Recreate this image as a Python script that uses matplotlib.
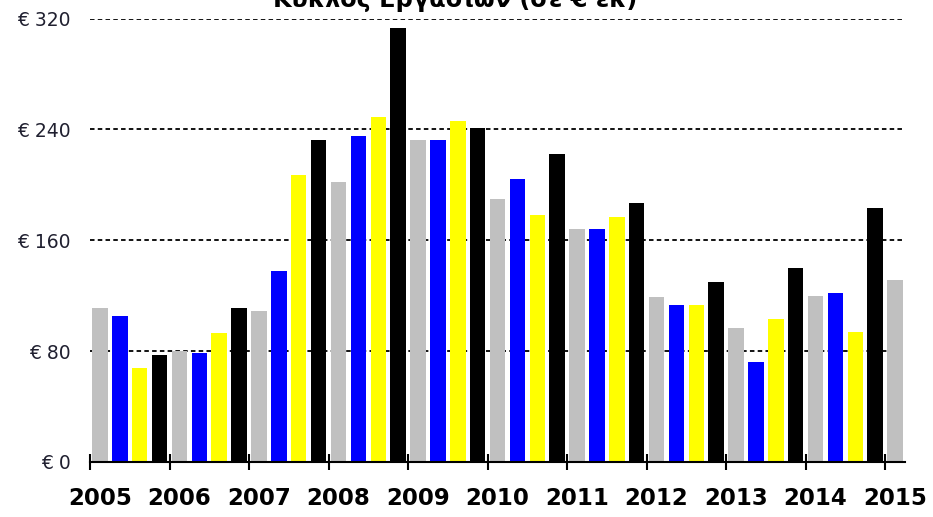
import numpy as np
import matplotlib.pyplot as plt

# Κύκλος εργασιών ανά τρίμηνο (σε € εκ.)
years = ['2005', '2006', '2007', '2008', '2009', '2010',
         '2011', '2012', '2013', '2014', '2015']
revenue = [111, 105, 68, 77,      # 2005
           80, 79, 93, 111,       # 2006
           109, 138, 207, 232,    # 2007
           202, 235, 249, 313,    # 2008
           232, 232, 246, 241,    # 2009
           190, 204, 178, 222,    # 2010
           168, 168, 177, 187,    # 2011
           119, 113, 113, 130,    # 2012
           97, 72, 103, 140,      # 2013
           120, 122, 94, 183,     # 2014
           131]                   # 2015
quarter_colors = ['#c0c0c0', '#0000ff', '#ffff00', '#000000']
yticks = [0, 80, 160, 240, 320]

fig = plt.figure(figsize=(9.33, 5.17), dpi=100)
ax = fig.add_axes([0.0965, 0.1064, 0.8735, 0.8578])

x = np.arange(len(revenue))
colors = [quarter_colors[i % 4] for i in x]
ax.bar(x, revenue, width=0.78, color=colors, zorder=2)

ax.set_xlim(-0.5, len(revenue) - 0.5)
ax.set_ylim(0, 320)

# γραμμές πλέγματος
ax.set_yticks(yticks)
ax.set_yticklabels(['€ %d' % v for v in yticks])
ax.yaxis.grid(True, color='black', linestyle=(0, (2.5, 1.8)), linewidth=1.3)
ax.set_axisbelow(True)
ax.tick_params(axis='y', length=0, pad=14, labelsize=13.5, labelcolor='#202030')

# άξονας x: σημάδια στην αρχή κάθε έτους, ετικέτες λίγο δεξιότερα
ax.set_xticks([4 * i - 0.5 for i in range(len(years))])
ax.set_xticklabels([])
ax.set_xticks([4 * i for i in range(len(years))], minor=True)
ax.set_xticklabels(years, minor=True, fontsize=16.5, fontweight='bold')
ax.tick_params(axis='x', which='major', direction='inout', length=11, width=1.5)
ax.tick_params(axis='x', which='minor', length=0, pad=18)

for s in ['left', 'right', 'top']:
    ax.spines[s].set_visible(False)
ax.spines['bottom'].set_linewidth(1.5)

fig.text(0.488, 0.9865, 'Κύκλος Εργασιών (σε € εκ)', ha='center', va='baseline',
         fontsize=17.3, fontweight='bold')

plt.savefig('out.png')
